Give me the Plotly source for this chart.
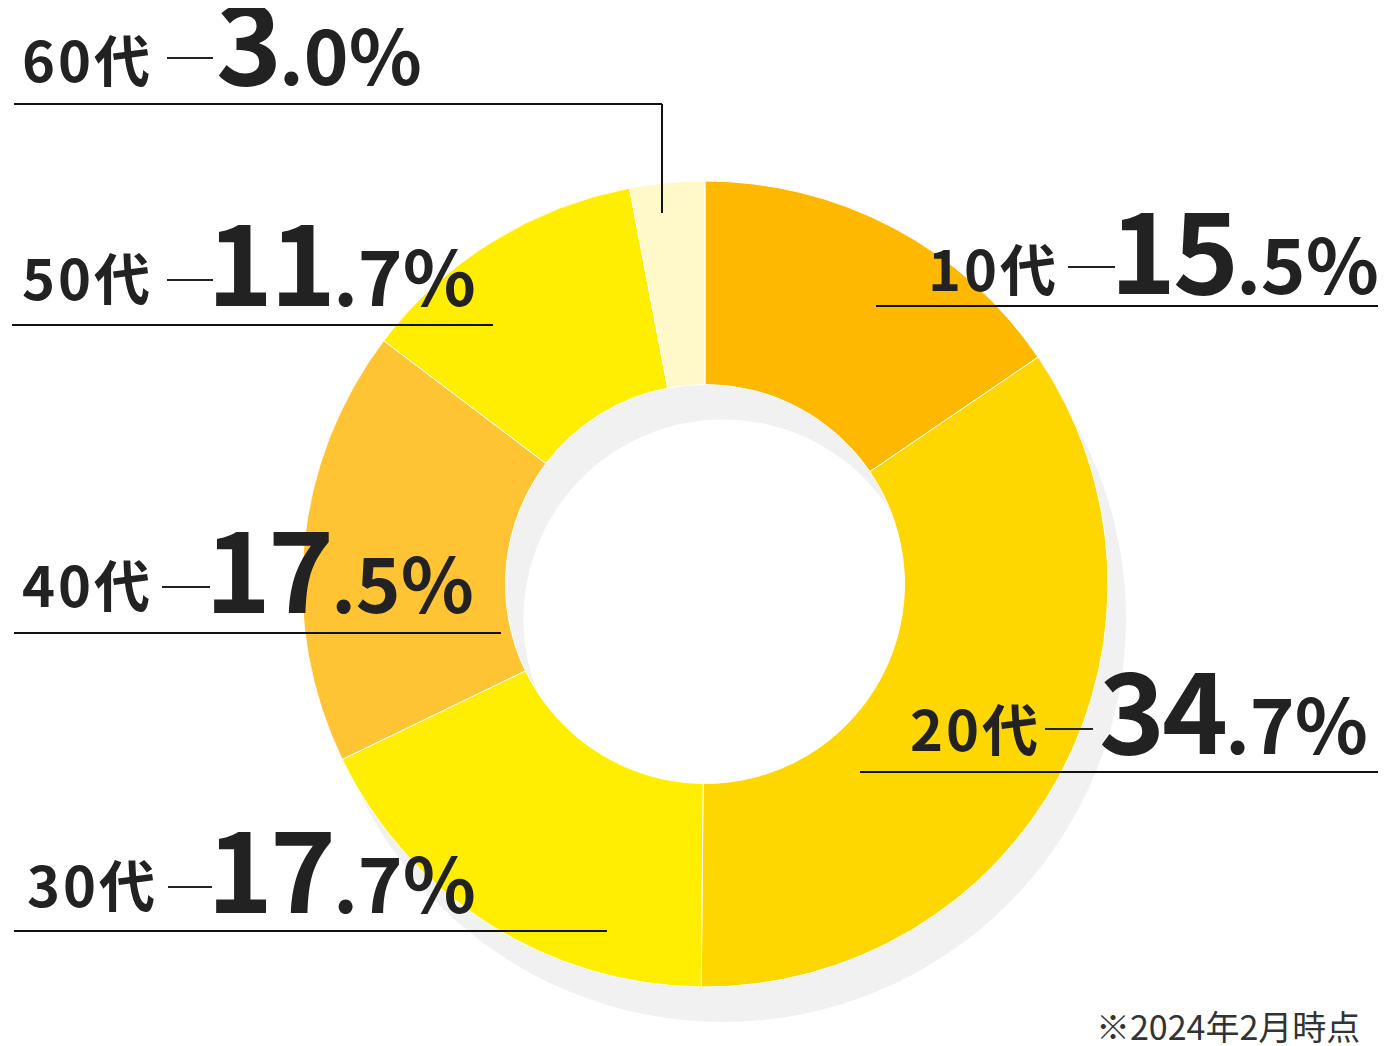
import plotly.graph_objects as go

# page body adds an 8px margin; figure is sized to fit the window
OX, OY = 8, 8
W, H = 1378, 1038

ages = ["10代", "20代", "30代", "40代", "50代", "60代"]
shares = [15.5, 34.7, 17.7, 17.5, 11.7, 3.0]
int_parts = ["15", "34", "17", "17", "11", "3"]
dec_parts = [".5%", ".7%", ".7%", ".5%", ".7%", ".0%"]
colors = ["#FFB800", "#FFD700", "#FFEE00", "#FFC433", "#FFEE00", "#FFF8C8"]
footnote = "※2024年2月時点"

def px(x):
    return (x - OX) / W

def py(y):
    return 1 - (y - OY) / H

cx, cy, r = 705, 584, 403
sdx, sdy = 18, 35
hole = 0.495

def dom(x0, y0):
    return dict(x=[px(x0 - r), px(x0 + r)], y=[py(y0 + r), py(y0 - r)])

fig = go.Figure()
fig.add_trace(go.Pie(values=[1], labels=["shadow"], marker=dict(colors=["#F1F1F1"]),
                     hole=hole, sort=False, textinfo="none", hoverinfo="skip",
                     domain=dom(cx + sdx, cy + sdy), showlegend=False))
fig.add_trace(go.Pie(values=shares, labels=ages, marker=dict(colors=colors, line=dict(color="white", width=1)),
                     hole=hole, sort=False, direction="clockwise", rotation=0,
                     textinfo="none", domain=dom(cx, cy), showlegend=False))

layout_info = {
    "60代": dict(ax=155, d0=167, d1=213, nx=214, ba=82, bn=85, dy=58, uy=104, u0=14, u1=662),
    "50代": dict(ax=155, d0=167, d1=213, nx=205, ba=300, bn=306, dy=280, uy=325, u0=12, u1=493),
    "40代": dict(ax=155, d0=162, d1=210, nx=203, ba=607, bn=613, dy=587, uy=633, u0=14, u1=501),
    "30代": dict(ax=160, d0=168, d1=212, nx=205, ba=907, bn=913, dy=887, uy=931, u0=14, u1=607),
    "10代": dict(ax=1061, d0=1068, d1=1115, nx=1108, ba=291, bn=294, dy=267, uy=306, u0=876, u1=1383),
    "20代": dict(ax=1043, d0=1045, d1=1093, nx=1097, ba=751, bn=754, dy=729, uy=772, u0=860, u1=1383),
}

FA = 56
FB = 112
FS = 76
DESC = 0.288
font_fam = "Noto Sans CJK JP"

shapes = []
annotations = []
for age, ip, dp in zip(ages, int_parts, dec_parts):
    L = layout_info[age]
    annotations.append(dict(
        x=px(L["ax"]), y=py(L["ba"] + DESC * FA + 2), xref="paper", yref="paper",
        xanchor="right", yanchor="bottom", showarrow=False,
        text="<span style='letter-spacing:3px'>" + age + "</span>",
        font=dict(family=font_fam, size=FA, color="#222222", weight=600)))
    annotations.append(dict(
        x=px(L["nx"]), y=py(L["bn"] + DESC * FB + 2), xref="paper", yref="paper",
        xanchor="left", yanchor="bottom", showarrow=False,
        text="<b><span style='font-size:%dpx;letter-spacing:-3px'>%s</span>%s</b>" % (FB, ip, dp),
        font=dict(family=font_fam, size=FS, color="#222222")))
    shapes.append(dict(type="line", xref="paper", yref="paper",
                       x0=px(L["d0"]), x1=px(L["d1"]), y0=py(L["dy"]), y1=py(L["dy"]),
                       line=dict(color="#222222", width=2)))
    shapes.append(dict(type="line", xref="paper", yref="paper",
                       x0=px(L["u0"]), x1=px(L["u1"]), y0=py(L["uy"]), y1=py(L["uy"]),
                       line=dict(color="#111111", width=2)))

shapes.append(dict(type="line", xref="paper", yref="paper",
                   x0=px(662), x1=px(662), y0=py(104), y1=py(213),
                   line=dict(color="#111111", width=2)))

annotations.append(dict(
    x=px(1362), y=py(1052), xref="paper", yref="paper", xanchor="right", yanchor="bottom",
    showarrow=False, text=footnote, font=dict(family=font_fam, size=34, color="#333333")))

fig.update_layout(width=W, height=H, margin=dict(l=0, r=0, t=0, b=0),
                  paper_bgcolor="white", plot_bgcolor="white",
                  shapes=shapes, annotations=annotations)

fig.write_html("out.html")
